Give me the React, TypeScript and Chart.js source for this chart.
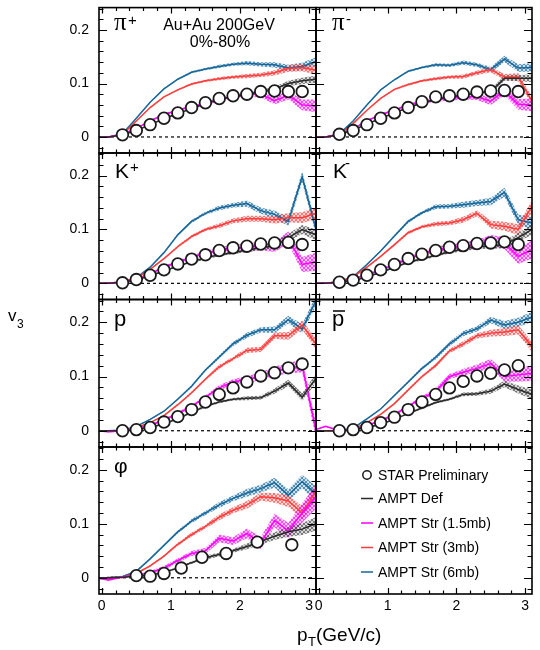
import React, { useEffect, useRef } from "react";
import { Chart, registerables } from "chart.js";

Chart.register(...registerables);

const PAGE_W = 540;
const PAGE_H = 650;

// pT bin centres of the AMPT curves (GeV/c)
const PT_MODEL = [-0.1, 0.1, 0.3, 0.5, 0.7, 0.9, 1.1, 1.3, 1.5, 1.7, 1.9, 2.1, 2.3, 2.5, 2.7, 2.9, 3.1];
// pT of STAR preliminary points
const PT_STAR = [0.3, 0.5, 0.7, 0.9, 1.1, 1.3, 1.5, 1.7, 1.9, 2.1, 2.3, 2.5, 2.7, 2.9];
const PT_STAR_PHI = [0.5, 0.7, 0.9, 1.15, 1.45, 1.8, 2.25, 2.75];

// pi+
const PIP_STAR = [0.004, 0.012, 0.023, 0.035, 0.045, 0.055, 0.064, 0.072, 0.077, 0.08, 0.085, 0.086, 0.085, 0.085];
const PIP_DEF = [0, 0, 0.004, 0.012, 0.023, 0.034, 0.044, 0.053, 0.062, 0.07, 0.076, 0.08, 0.085, 0.09, 0.1, 0.105, 0.108];
const PIP_S15 = [0, 0, 0.005, 0.016, 0.03, 0.042, 0.05, 0.057, 0.063, 0.07, 0.076, 0.08, 0.08, 0.068, 0.078, 0.06, 0.058];
const PIP_S3 = [0, 0, 0.004, 0.03, 0.055, 0.075, 0.088, 0.099, 0.105, 0.109, 0.112, 0.114, 0.116, 0.12, 0.128, 0.13, 0.125];
const PIP_S6 = [0, 0, 0.006, 0.035, 0.065, 0.09, 0.108, 0.121, 0.127, 0.132, 0.136, 0.138, 0.136, 0.135, 0.129, 0.132, 0.141];

// pi-
const PIM_STAR = [0.005, 0.012, 0.023, 0.035, 0.045, 0.055, 0.066, 0.075, 0.077, 0.08, 0.084, 0.086, 0.087, 0.085];
const PIM_DEF = [0, 0, 0.004, 0.013, 0.024, 0.035, 0.045, 0.055, 0.063, 0.07, 0.075, 0.078, 0.082, 0.085, 0.11, 0.11, 0.11];
const PIM_S15 = [0, 0, 0.005, 0.015, 0.03, 0.042, 0.05, 0.06, 0.065, 0.07, 0.072, 0.075, 0.075, 0.067, 0.086, 0.061, 0.06];
const PIM_S3 = [0, 0, 0.004, 0.025, 0.05, 0.072, 0.089, 0.098, 0.105, 0.109, 0.112, 0.113, 0.12, 0.126, 0.112, 0.112, 0.067];
const PIM_S6 = [0, 0, 0.006, 0.03, 0.06, 0.088, 0.107, 0.123, 0.13, 0.135, 0.134, 0.139, 0.135, 0.126, 0.146, 0.129, 0.13];

// K+
const KP_STAR = [0.001, 0.007, 0.015, 0.025, 0.036, 0.045, 0.053, 0.061, 0.066, 0.069, 0.073, 0.075, 0.076, 0.072];
const KP_DEF = [0, 0, 0.002, 0.006, 0.014, 0.023, 0.032, 0.04, 0.047, 0.053, 0.057, 0.062, 0.066, 0.07, 0.085, 0.1, 0.09];
const KP_S15 = [0, 0, 0.002, 0.008, 0.018, 0.03, 0.04, 0.048, 0.056, 0.062, 0.066, 0.066, 0.07, 0.068, 0.085, 0.035, 0.04];
const KP_S3 = [0, 0, 0.003, 0.01, 0.026, 0.046, 0.068, 0.087, 0.1, 0.107, 0.116, 0.12, 0.12, 0.118, 0.122, 0.122, 0.13];
const KP_S6 = [0, 0, 0.003, 0.01, 0.03, 0.057, 0.09, 0.115, 0.13, 0.14, 0.145, 0.148, 0.135, 0.128, 0.115, 0.198, 0.1];

// K-
const KM_STAR = [0.002, 0.006, 0.015, 0.025, 0.035, 0.046, 0.054, 0.061, 0.067, 0.07, 0.074, 0.075, 0.077, 0.072];
const KM_DEF = [0, 0, 0.002, 0.005, 0.012, 0.02, 0.03, 0.039, 0.045, 0.052, 0.058, 0.064, 0.068, 0.07, 0.072, 0.085, 0.1];
const KM_S15 = [0, 0, 0.002, 0.008, 0.016, 0.025, 0.035, 0.046, 0.055, 0.063, 0.066, 0.069, 0.072, 0.08, 0.075, 0.05, 0.063];
const KM_S3 = [0, 0, 0.003, 0.012, 0.03, 0.05, 0.072, 0.094, 0.105, 0.11, 0.112, 0.118, 0.13, 0.109, 0.106, 0.1, 0.143];
const KM_S6 = [0, 0, 0.003, 0.012, 0.035, 0.06, 0.088, 0.115, 0.131, 0.142, 0.143, 0.146, 0.149, 0.152, 0.169, 0.118, 0.112];

// p
const P_STAR = [0, 0.002, 0.006, 0.016, 0.026, 0.039, 0.053, 0.067, 0.079, 0.09, 0.101, 0.107, 0.116, 0.123];
const P_DEF = [0, 0, 0, 0.002, 0.006, 0.013, 0.022, 0.034, 0.045, 0.053, 0.058, 0.06, 0.061, 0.073, 0.088, 0.062, 0.097];
const P_S15 = [0, -0.002, 0, 0.004, 0.01, 0.02, 0.032, 0.045, 0.062, 0.079, 0.09, 0.095, 0.1, 0.11, 0.115, 0.12, 0.0];
const P_S3 = [0, 0, 0, 0.006, 0.015, 0.028, 0.048, 0.07, 0.095, 0.118, 0.133, 0.148, 0.15, 0.175, 0.175, 0.195, 0.16];
const P_S6 = [0, 0, 0.001, 0.008, 0.021, 0.036, 0.058, 0.082, 0.112, 0.136, 0.16, 0.176, 0.186, 0.186, 0.205, 0.188, 0.24];

// p-bar
const PB_STAR = [0, 0.002, 0.006, 0.015, 0.025, 0.039, 0.053, 0.067, 0.079, 0.091, 0.101, 0.106, 0.112, 0.12];
const PB_DEF = [0, 0, 0, 0.002, 0.006, 0.012, 0.021, 0.032, 0.042, 0.052, 0.058, 0.067, 0.068, 0.073, 0.086, 0.076, 0.067];
const PB_S15 = [0, 0.008, 0, 0.002, 0.01, 0.018, 0.03, 0.045, 0.06, 0.073, 0.1, 0.108, 0.115, 0.124, 0.1, 0.103, 0.106];
const PB_S3 = [0, 0, 0, 0.003, 0.015, 0.03, 0.05, 0.075, 0.1, 0.12, 0.147, 0.16, 0.175, 0.18, 0.182, 0.186, 0.155];
const PB_S6 = [0, 0, 0, 0.005, 0.022, 0.04, 0.065, 0.09, 0.115, 0.135, 0.16, 0.179, 0.188, 0.204, 0.195, 0.2, 0.21];

// phi
const PHI_STAR = [0.004, 0.003, 0.008, 0.018, 0.038, 0.045, 0.066, 0.061];
const PHI_DEF = [0, 0, 0.001, 0.003, 0.005, 0.01, 0.018, 0.028, 0.037, 0.043, 0.05, 0.058, 0.067, 0.077, 0.085, 0.09, 0.1];
const PHI_S15 = [0, -0.004, 0.002, 0.004, 0.01, 0.018, 0.032, 0.045, 0.05, 0.073, 0.068, 0.082, 0.064, 0.106, 0.087, 0.12, 0.15];
const PHI_S3 = [0, 0, 0.001, 0.008, 0.022, 0.04, 0.062, 0.08, 0.095, 0.112, 0.125, 0.135, 0.15, 0.148, 0.142, 0.12, 0.16];
const PHI_S6 = [0, 0, 0.002, 0.012, 0.035, 0.06, 0.085, 0.105, 0.12, 0.135, 0.147, 0.157, 0.165, 0.176, 0.153, 0.178, 0.155];

// half widths of the statistical bands of the models
const ERR_DEF = [0, 0.001, 0.001, 0.001, 0.001, 0.001, 0.001, 0.0015, 0.002, 0.002, 0.002, 0.003, 0.003, 0.004, 0.005, 0.006, 0.007];
const ERR_S15 = [0, 0.001, 0.001, 0.001, 0.0015, 0.002, 0.002, 0.0025, 0.003, 0.004, 0.004, 0.005, 0.006, 0.007, 0.008, 0.01, 0.012];
const ERR_S3 = [0, 0.001, 0.001, 0.001, 0.001, 0.001, 0.0015, 0.002, 0.002, 0.003, 0.003, 0.004, 0.004, 0.005, 0.006, 0.007, 0.008];
const ERR_S6 = [0, 0.001, 0.001, 0.001, 0.001, 0.001, 0.0015, 0.002, 0.002, 0.003, 0.003, 0.004, 0.004, 0.005, 0.006, 0.007, 0.008];

const X_TICK_LABELS = [0, 1, 2, 3];
const Y_TICK_LABELS = [0, 0.1, 0.2];
const LEGEND_LABELS = ["STAR Preliminary", "AMPT Def", "AMPT Str (1.5mb)", "AMPT Str (3mb)", "AMPT Str (6mb)"];

const X_MIN = -0.04;
const X_MAX = 3.1;
const Y_MIN = -0.03;
const Y_MAX = 0.242;

const SANS = '"Liberation Sans", Arial, Helvetica, sans-serif';
const SERIF = '"Liberation Serif", "Times New Roman", serif';

const MODEL_STYLE = [
  { line: "#2a2a2a", band: [70, 70, 70], err: ERR_DEF },
  { line: "#ff00ff", band: [255, 0, 255], err: ERR_S15 },
  { line: "#ff3c3c", band: [255, 60, 60], err: ERR_S3 },
  { line: "#16679b", band: [22, 103, 155], err: ERR_S6 },
];

// page geometry of the grid of pads
const COL_X = [
  [99, 316],
  [316, 532],
];
const ROW_Y = [
  [6, 153],
  [153, 299.5],
  [299.5, 447],
  [447, 594],
];
const Y_AXIS_BOX = 40;
const X_AXIS_BOX = 30;

type Txt = { t: string; x: number; y: number; size: number; serif?: boolean; align?: CanvasTextAlign };
type PanelCfg = {
  id: string;
  col: number;
  row: number;
  curves: number[][];
  starX?: number[];
  starY?: number[];
  errScale?: number;
  texts: Txt[];
  bars?: number[][];
  legend?: boolean;
};

const PANELS: PanelCfg[] = [
  {
    id: "pip", col: 0, row: 0, curves: [PIP_DEF, PIP_S15, PIP_S3, PIP_S6], starX: PT_STAR, starY: PIP_STAR, errScale: 1,
    texts: [
      { t: "π", x: 114, y: 30, size: 25, serif: true },
      { t: "+", x: 128, y: 25, size: 15 },
      { t: "Au+Au 200GeV", x: 219, y: 30, size: 16, align: "center" },
      { t: "0%-80%", x: 220, y: 47, size: 16, align: "center" },
    ],
  },
  {
    id: "pim", col: 1, row: 0, curves: [PIM_DEF, PIM_S15, PIM_S3, PIM_S6], starX: PT_STAR, starY: PIM_STAR, errScale: 1,
    texts: [
      { t: "π", x: 332, y: 30, size: 25, serif: true },
      { t: "-", x: 346, y: 24, size: 15 },
    ],
  },
  {
    id: "kp", col: 0, row: 1, curves: [KP_DEF, KP_S15, KP_S3, KP_S6], starX: PT_STAR, starY: KP_STAR, errScale: 1.4,
    texts: [
      { t: "K", x: 115, y: 178, size: 21 },
      { t: "+", x: 130, y: 172, size: 15 },
    ],
  },
  {
    id: "km", col: 1, row: 1, curves: [KM_DEF, KM_S15, KM_S3, KM_S6], starX: PT_STAR, starY: KM_STAR, errScale: 1.4,
    texts: [
      { t: "K", x: 333, y: 177.5, size: 21 },
      { t: "-", x: 345, y: 168, size: 15 },
    ],
  },
  {
    id: "p", col: 0, row: 2, curves: [P_DEF, P_S15, P_S3, P_S6], starX: PT_STAR, starY: P_STAR, errScale: 1.2,
    texts: [{ t: "p", x: 114, y: 326, size: 22 }],
  },
  {
    id: "pbar", col: 1, row: 2, curves: [PB_DEF, PB_S15, PB_S3, PB_S6], starX: PT_STAR, starY: PB_STAR, errScale: 1.2,
    texts: [{ t: "p", x: 332, y: 326, size: 22 }],
    bars: [[333, 311, 345, 311]],
  },
  {
    id: "phi", col: 0, row: 3, curves: [PHI_DEF, PHI_S15, PHI_S3, PHI_S6], starX: PT_STAR_PHI, starY: PHI_STAR, errScale: 1.8,
    texts: [
      { t: "φ", x: 114, y: 473, size: 21 },
      { t: "v", x: 8, y: 321, size: 17 },
      { t: "3", x: 17, y: 328, size: 12 },
      { t: "p", x: 297, y: 641, size: 19 },
      { t: "T", x: 308, y: 646, size: 13 },
      { t: "(GeV/c)", x: 316, y: 641, size: 19 },
    ],
  },
  { id: "legend", col: 1, row: 3, curves: [], texts: [], legend: true },
];

function makeHatch(rgb: number[]) {
  const c = document.createElement("canvas");
  c.width = 4;
  c.height = 4;
  const g = c.getContext("2d")!;
  const [r, gg, b] = rgb;
  g.fillStyle = `rgba(${r},${gg},${b},0.2)`;
  g.fillRect(0, 0, 4, 4);
  g.fillStyle = `rgba(${r},${gg},${b},0.65)`;
  for (let i = 0; i < 4; i++) {
    g.fillRect(i, i, 1, 1);
    g.fillRect(3 - i, i, 1, 1);
  }
  return g.createPattern(c, "repeat")!;
}

function PanelChart({ p }: { p: PanelCfg }) {
  const ref = useRef<HTMLCanvasElement>(null);

  useEffect(() => {
    const canvas = ref.current!;
    const [L, R] = COL_X[p.col];
    const [T, B] = ROW_Y[p.row];
    const showY = p.col === 0;
    const showX = p.row === 3;
    const es = p.errScale ?? 1;

    const datasets: any[] = [];
    if (p.starX && p.starY) {
      datasets.push({
        label: "STAR Preliminary",
        data: p.starX.map((x, i) => ({ x, y: p.starY![i] })),
        showLine: false,
        pointRadius: 5.8,
        pointBorderWidth: 1.8,
        pointBorderColor: "#1a1a1a",
        pointBackgroundColor: "#ffffff",
        order: 0,
      });
    }
    p.curves.forEach((vals, k) => {
      const st = MODEL_STYLE[k];
      datasets.push({
        label: LEGEND_LABELS[k + 1] + " band+",
        data: PT_MODEL.map((x, i) => ({ x, y: vals[i] + st.err[i] * es })),
        fill: "+1",
        backgroundColor: makeHatch(st.band),
        borderColor: "rgba(0,0,0,0)",
        borderWidth: 0,
        pointRadius: 0,
        tension: 0,
        order: 10 + k,
      });
      datasets.push({
        label: LEGEND_LABELS[k + 1] + " band-",
        data: PT_MODEL.map((x, i) => ({ x, y: vals[i] - st.err[i] * es })),
        fill: false,
        borderColor: "rgba(0,0,0,0)",
        borderWidth: 0,
        pointRadius: 0,
        tension: 0,
        order: 10 + k,
      });
      datasets.push({
        label: LEGEND_LABELS[k + 1],
        data: PT_MODEL.map((x, i) => ({ x, y: vals[i] })),
        fill: false,
        borderColor: st.line,
        borderWidth: 1.5,
        pointRadius: 0,
        tension: 0,
        order: 1 + k,
      });
    });
    if (!p.legend) {
      datasets.push({
        label: "zero",
        data: [
          { x: X_MIN, y: 0 },
          { x: X_MAX, y: 0 },
        ],
        borderColor: "#000",
        borderWidth: 1.2,
        borderDash: [3, 3],
        pointRadius: 0,
        fill: false,
        order: 50,
      });
    }

    const framePlugin = {
      id: "frame_" + p.id,
      afterDraw(chart: any) {
        const { ctx, chartArea: a } = chart;
        const xs = chart.scales.x;
        const ys = chart.scales.y;
        ctx.save();
        ctx.strokeStyle = "#000";
        ctx.lineWidth = 1.2;
        ctx.beginPath();
        for (let i = -1; i <= 12; i++) {
          const v = i * 0.02;
          if (v < Y_MIN || v > Y_MAX) continue;
          const py = Math.round(ys.getPixelForValue(v)) + 0.5;
          const len = i % 5 === 0 ? 8 : 4.5;
          ctx.moveTo(a.left, py);
          ctx.lineTo(a.left + len, py);
          ctx.moveTo(a.right, py);
          ctx.lineTo(a.right - len, py);
        }
        for (let i = 0; i <= 15; i++) {
          const v = i * 0.2;
          if (v < X_MIN || v > X_MAX) continue;
          const px = Math.round(xs.getPixelForValue(v)) + 0.5;
          const len = i % 5 === 0 ? 6 : 3.5;
          ctx.moveTo(px, a.bottom);
          ctx.lineTo(px, a.bottom - len);
          ctx.moveTo(px, a.top);
          ctx.lineTo(px, a.top + len);
        }
        ctx.stroke();
        ctx.lineWidth = 1.6;
        ctx.strokeRect(a.left, a.top, a.right - a.left, a.bottom - a.top);

        ctx.fillStyle = "#000";
        ctx.textBaseline = "alphabetic";
        for (const t of p.texts) {
          ctx.font = `${t.size}px ${t.serif ? SERIF : SANS}`;
          ctx.textAlign = t.align ?? "left";
          ctx.fillText(t.t, t.x, t.y);
        }
        if (p.bars) {
          ctx.lineWidth = 1.5;
          ctx.beginPath();
          for (const b of p.bars) {
            ctx.moveTo(b[0], b[1]);
            ctx.lineTo(b[2], b[3]);
          }
          ctx.stroke();
        }
        if (p.legend) {
          const base = [480, 503, 527.5, 552, 576.5];
          ctx.font = `14px ${SANS}`;
          ctx.textAlign = "left";
          LEGEND_LABELS.forEach((lab, i) => {
            const yb = base[i];
            if (i === 0) {
              ctx.beginPath();
              ctx.lineWidth = 1.5;
              ctx.strokeStyle = "#1a1a1a";
              ctx.arc(367, yb - 5, 4.2, 0, Math.PI * 2);
              ctx.stroke();
            } else {
              ctx.beginPath();
              ctx.lineWidth = 1.5;
              ctx.strokeStyle = MODEL_STYLE[i - 1].line;
              ctx.moveTo(361, yb - 4.5);
              ctx.lineTo(373, yb - 4.5);
              ctx.stroke();
            }
            ctx.fillStyle = "#000";
            ctx.fillText(lab, 378, yb);
          });
        }
        ctx.restore();
      },
    };

    const chart = new Chart(canvas, {
      type: "line",
      data: { datasets },
      options: {
        responsive: false,
        animation: false,
        devicePixelRatio: 1,
        events: [],
        layout: {
          padding: {
            left: L - Y_AXIS_BOX,
            right: PAGE_W - R,
            top: T,
            bottom: PAGE_H - B - X_AXIS_BOX,
          },
        },
        plugins: { legend: { display: false }, tooltip: { enabled: false } },
        scales: {
          x: {
            type: "linear",
            min: X_MIN,
            max: X_MAX,
            grid: { display: false, drawTicks: false },
            border: { display: false },
            ticks: {
              display: showX,
              color: "#000",
              font: { family: SANS, size: 14 },
              padding: 4,
              maxRotation: 0,
              autoSkip: false,
              callback: (v: any) => String(Math.round(Number(v) * 100) / 100),
            },
            afterBuildTicks: (s: any) => {
              s.ticks = X_TICK_LABELS.map((v) => ({ value: v }));
            },
            afterFit: (s: any) => {
              s.height = X_AXIS_BOX;
              s.paddingLeft = 0;
              s.paddingRight = 0;
              s.paddingTop = 0;
              s.paddingBottom = 0;
            },
          },
          y: {
            type: "linear",
            min: Y_MIN,
            max: Y_MAX,
            grid: { display: false, drawTicks: false },
            border: { display: false },
            ticks: {
              display: showY,
              color: "#000",
              font: { family: SANS, size: 14 },
              padding: 10,
              callback: (v: any) => String(Math.round(Number(v) * 100) / 100),
            },
            afterBuildTicks: (s: any) => {
              s.ticks = Y_TICK_LABELS.map((v) => ({ value: v }));
            },
            afterFit: (s: any) => {
              s.width = Y_AXIS_BOX;
              s.paddingLeft = 0;
              s.paddingRight = 0;
              s.paddingTop = 0;
              s.paddingBottom = 0;
            },
          },
        },
      } as any,
      plugins: [framePlugin],
    });
    return () => chart.destroy();
  }, [p]);

  return (
    <canvas
      ref={ref}
      width={PAGE_W}
      height={PAGE_H}
      style={{ position: "absolute", left: 0, top: 0, width: PAGE_W, height: PAGE_H }}
    />
  );
}

export default function App() {
  return (
    <div style={{ position: "absolute", left: 0, top: 0, width: PAGE_W, height: PAGE_H, background: "#fff", overflow: "hidden" }}>
      {PANELS.map((p) => (
        <PanelChart key={p.id} p={p} />
      ))}
    </div>
  );
}
